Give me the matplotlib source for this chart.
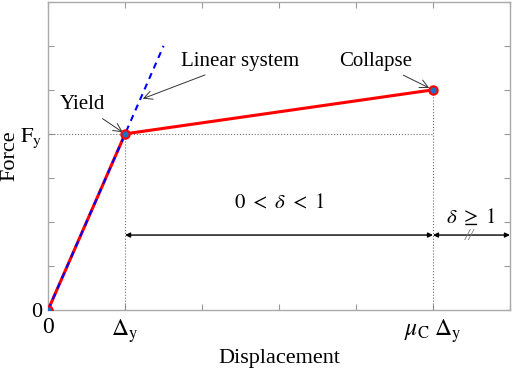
import matplotlib
matplotlib.use('Agg')
import matplotlib.pyplot as plt

plt.rcParams['font.family'] = ['Liberation Serif', 'DejaVu Serif']
plt.rcParams['mathtext.fontset'] = 'stix'

# data
disp = [0, 1, 5]          # 0, Δy, μC·Δy
force = [0, 4, 5]         # 0, Fy, collapse
lin_x = [0, 1.5]
lin_y = [0, 6]
xticks = [0, 1, 2, 3, 4, 5, 6]
xtick_labels = ['0', r'$\Delta_{\rm y}$', '', '', '', r'$\mu_{\rm C}\;\Delta_{\rm y}$', '']
yticks = [0, 1, 2, 3, 4, 5, 6, 7]
ytick_labels = ['0', '', '', '', r'${\rm F}_{\rm y}$', '', '', '']

fig = plt.figure(figsize=(5.12, 3.68), dpi=100)
ax = fig.add_axes([0.094, 0.158, 0.902, 0.837])

# guide lines
gc = '#707070'
ax.plot([0, 5], [4, 4], ls=':', color=gc, lw=0.8)
ax.plot([1, 1], [0, 4], ls=':', color=gc, lw=0.8)
ax.plot([5, 5], [0, 5], ls=':', color=gc, lw=0.8)

ax.plot(disp, force, color='red', lw=2.2, zorder=3)
ax.plot(lin_x, lin_y, color='blue', ls=(0, (3, 2.5)), lw=1.5, zorder=4)
ax.plot(disp, force, ls='none', marker='o', ms=6, mfc='#1f6fc0', mec='red', mew=1.5, zorder=5)

# annotations
ax.annotate('Yield', xy=(1, 4), xytext=(0.44, 4.66), ha='center', va='center', fontsize=15,
            arrowprops=dict(arrowstyle='->', color='#333333', lw=0.7, shrinkA=2, shrinkB=2))
ax.annotate('Linear system', xy=(1.23, 4.8), xytext=(2.49, 5.64), ha='center', va='center', fontsize=15,
            arrowprops=dict(arrowstyle='->', color='#333333', lw=0.7, shrinkA=2, shrinkB=0))
ax.annotate('Collapse', xy=(5, 5), xytext=(4.26, 5.64), ha='center', va='center', fontsize=15,
            arrowprops=dict(arrowstyle='->', color='#333333', lw=0.7, shrinkA=2, shrinkB=3))

ax.annotate('', xy=(1, 1.7), xytext=(5, 1.7),
            arrowprops=dict(arrowstyle='<|-|>', color='black', lw=1.0, mutation_scale=7, shrinkA=0, shrinkB=0))
ax.annotate('', xy=(5, 1.7), xytext=(6, 1.7),
            arrowprops=dict(arrowstyle='<|-|>', color='black', lw=1.0, mutation_scale=7, shrinkA=0, shrinkB=0))
ax.text(3, 2.4, r'$0\ <\ \delta\ <\ 1$', ha='center', va='center', fontsize=15)
ax.text(5.5, 2.1, r'$\delta\ \geq\ 1$', ha='center', va='center', fontsize=15)
ax.text(5.47, 1.68, '//', ha='center', va='center', fontsize=12, color='#777777', style='italic')

ax.set_xlim(0, 6)
ax.set_ylim(0, 7)
ax.set_xticks(xticks)
ax.set_xticklabels(xtick_labels, fontsize=17)
ax.set_yticks(yticks)
ax.set_yticklabels(ytick_labels, fontsize=16)
ax.tick_params(direction='in', top=True, right=True, length=4, color='#999999')
ax.tick_params(axis='x', pad=5)
ax.tick_params(axis='y', pad=4)
for s in ax.spines.values():
    s.set_color('#aaaaaa')
    s.set_linewidth(1.0)
ax.set_xlabel('Displacement', fontsize=16, labelpad=3)
ax.set_ylabel('Force', fontsize=16, va='center')
ax.yaxis.set_label_coords(-0.082, 0.5)

fig.savefig('out.png', dpi=100)
